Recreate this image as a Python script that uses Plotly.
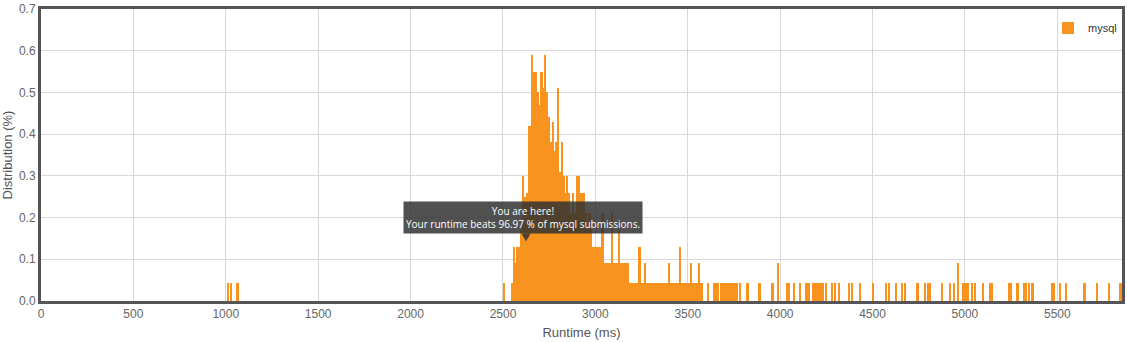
import plotly.graph_objects as go

# ---- data ----
series_name = "mysql"

runtimes_low = [1012, 1030, 1065]
dist_low = [0.044, 0.044, 0.044]

runtimes_core = [2505, 2550, 2560, 2570, 2580, 2590, 2600, 2610, 2620, 2630,
                 2640, 2650, 2660, 2670, 2680, 2690, 2700, 2710, 2720, 2730,
                 2740, 2750, 2760, 2770, 2780, 2790, 2800, 2810, 2820, 2830,
                 2840, 2850, 2860, 2870, 2880, 2890, 2900, 2910, 2920, 2930,
                 2940, 2950, 2960, 2970, 2980, 2990, 3000, 3010, 3020, 3030,
                 3040, 3050, 3060, 3070, 3080, 3090, 3100, 3110, 3120, 3130,
                 3140, 3150, 3160, 3170, 3180, 3190, 3200, 3210, 3220, 3230,
                 3240, 3250, 3260, 3270, 3280, 3290, 3300, 3310, 3320, 3330,
                 3340, 3350, 3360, 3370, 3380, 3390, 3400, 3410, 3420, 3430,
                 3440, 3450, 3460, 3470, 3480, 3490, 3500, 3510, 3520, 3530,
                 3540, 3550, 3560, 3570, 3580]
dist_core = [0.044, 0.044, 0.13, 0.09, 0.13, 0.13, 0.17, 0.30, 0.25, 0.26,
             0.42, 0.42, 0.59, 0.55, 0.55, 0.50, 0.47, 0.55, 0.51, 0.59,
             0.50, 0.44, 0.38, 0.43, 0.36, 0.38, 0.51, 0.31, 0.38, 0.30,
             0.26, 0.30, 0.26, 0.21, 0.26, 0.21, 0.30, 0.30, 0.26, 0.26,
             0.26, 0.21, 0.17, 0.21, 0.17, 0.13, 0.13, 0.13, 0.13, 0.13,
             0.21, 0.09, 0.09, 0.09, 0.09, 0.21, 0.09, 0.09, 0.09, 0.17,
             0.09, 0.09, 0.09, 0.09, 0.09, 0.044, 0.044, 0.044, 0.044, 0.044,
             0.13, 0.044, 0.044, 0.09, 0.044, 0.044, 0.044, 0.044, 0.044, 0.044,
             0.044, 0.044, 0.044, 0.044, 0.044, 0.044, 0.09, 0.044, 0.044, 0.044,
             0.044, 0.044, 0.13, 0.044, 0.044, 0.044, 0.044, 0.044, 0.09, 0.044,
             0.044, 0.044, 0.09, 0.044, 0.044]

runtimes_tail = [3610, 3645, 3655, 3665, 3680, 3695, 3705, 3715, 3725, 3735,
                 3745, 3760, 3770, 3785, 3825, 3890, 3960, 3990, 4040, 4050,
                 4075, 4110, 4140, 4155, 4180, 4190, 4200, 4210, 4220, 4232,
                 4250, 4280, 4300, 4320, 4375, 4390, 4433, 4503, 4575, 4592,
                 4630, 4660, 4678, 4745, 4785, 4800, 4810, 4875, 4920, 4940,
                 4962, 4990, 5000, 5010, 5020, 5040, 5055, 5100, 5135, 5145,
                 5240, 5252, 5286, 5322, 5332, 5350, 5367, 5475, 5485, 5518,
                 5550, 5648, 5718, 5783, 5843]
dist_tail = [0.044] * 17 + [0.09] + [0.044] * 32 + [0.09] + [0.044] * 24

runtimes = runtimes_low + runtimes_core + runtimes_tail
distribution = dist_low + dist_core + dist_tail

user_runtime = 2625
tooltip_lines = ["You are here!", "Your runtime beats 96.97 % of mysql submissions."]

x_ticks = [0, 500, 1000, 1500, 2000, 2500, 3000, 3500, 4000, 4500, 5000, 5500]
y_ticks = [0.0, 0.1, 0.2, 0.3, 0.4, 0.5, 0.6, 0.7]

bar_color = "#f7931e"
axis_font = "Liberation Sans, Arial, sans-serif"

fig = go.Figure()
fig.add_trace(go.Bar(
    x=runtimes, y=distribution, name=series_name,
    width=9, marker=dict(color=bar_color, line=dict(width=0)),
    showlegend=True,
))

fig.add_annotation(
    x=user_runtime - 17, y=0.199, xref="x", yref="y",
    text="<br>".join(tooltip_lines), showarrow=False,
    font=dict(family="Open Sans, sans-serif", size=10, color="white"),
    bgcolor="rgba(50,50,50,0.85)", width=234, height=27, borderpad=2,
    align="center", xanchor="center", yanchor="middle",
)
# small pointer below the tooltip
fig.add_shape(type="path", xref="x", yref="y",
              path=f"M {user_runtime-25},0.162 L {user_runtime+25},0.162 L {user_runtime},0.143 Z",
              fillcolor="rgba(50,50,50,0.85)", line=dict(width=0))

fig.update_layout(
    width=1127, height=342,
    margin=dict(l=41, r=2, t=5, b=41),
    plot_bgcolor="white", paper_bgcolor="white",
    bargap=0,
    font=dict(family=axis_font, color="#555"),
    legend=dict(x=1.0, y=0.985, xanchor="right", yanchor="top",
                bgcolor="rgba(0,0,0,0)", font=dict(family=axis_font, size=11, color="#333"),
                itemwidth=30, tracegroupgap=0),
    showlegend=True,
)
fig.update_xaxes(
    range=[0, 5850], tickvals=x_ticks, ticktext=[str(v) for v in x_ticks],
    showgrid=True, gridcolor="#d8d8d8", gridwidth=1,
    showline=True, linecolor="#555", linewidth=3, mirror=True,
    zeroline=False, ticks="", tickfont=dict(size=12, color="#666"),
    ticklabeloverflow="allow",
    title=dict(text="Runtime (ms)", font=dict(size=13, color="#555"), standoff=8),
)
fig.update_yaxes(
    range=[0, 0.7], tickvals=y_ticks, ticktext=[f"{v:.1f}" for v in y_ticks],
    showgrid=True, gridcolor="#d8d8d8", gridwidth=1,
    showline=True, linecolor="#555", linewidth=3, mirror=True,
    zeroline=False, ticks="", tickfont=dict(size=12, color="#666"),
    ticklabeloverflow="allow",
    title=dict(text="Distribution (%)", font=dict(size=13, color="#555"), standoff=4),
)

fig.write_html("out.html")
